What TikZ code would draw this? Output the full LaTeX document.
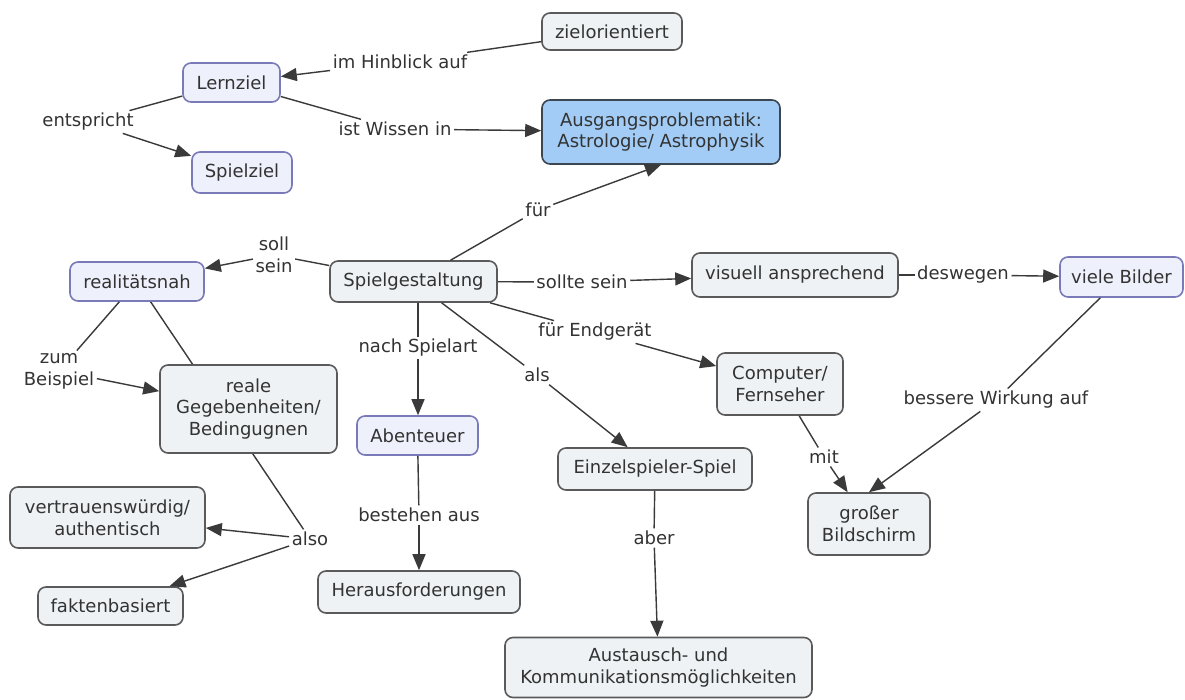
\documentclass[tikz,border=0pt]{standalone}
\usepackage{fontspec}
\setmainfont{DejaVu Sans}
\usetikzlibrary{arrows.meta,backgrounds}
\definecolor{txtc}{HTML}{333333}
\definecolor{linec}{HTML}{3A3A3A}
\definecolor{greyborder}{HTML}{5A5A5A}
\definecolor{greyfill}{HTML}{EEF2F5}
\definecolor{blueborder}{HTML}{7A7AB8}
\definecolor{lavfill}{HTML}{EEF0FB}
\definecolor{rootfill}{HTML}{A2CCF5}
\definecolor{rootborder}{HTML}{3C4650}
\newcommand\mapfont{\fontsize{18}{21.7}\selectfont}
\tikzset{
  concept/.style={draw=greyborder, fill=greyfill, line width=1.6pt, rounded corners=8pt,
    align=center, inner sep=2pt, text=txtc, font=\mapfont},
  conceptB/.style={concept, draw=blueborder, fill=lavfill},
  rootc/.style={concept, draw=rootborder, fill=rootfill},
  linklbl/.style={align=center, inner sep=2.5pt, text=txtc, font=\mapfont},
  conn/.style={draw=linec, line width=1.4pt},
  arr/.style={conn, -{Triangle[length=16pt,width=13pt]}},
}
\begin{document}
\begin{tikzpicture}[x=1pt,y=-1pt]
\useasboundingbox (0,0) rectangle (1185,699);

% concepts
\node[concept, minimum width=140pt, minimum height=37pt] (ziel) at (612,31.5) {zielorientiert};
\node[conceptB, minimum width=97pt, minimum height=39pt] (lern) at (231.5,82.5) {Lernziel};
\node[conceptB, minimum width=100pt, minimum height=41pt] (spielziel) at (242,172.5) {Spielziel};
\node[rootc, minimum width=238pt, minimum height=64pt] (ausg) at (661,132) {Ausgangsproblematik:\\Astrologie/ Astrophysik};
\node[conceptB, minimum width=134pt, minimum height=39pt] (realit) at (137,281.5) {realitätsnah};
\node[concept, minimum width=167pt, minimum height=41pt] (spielg) at (413.5,281.5) {Spielgestaltung};
\node[concept, minimum width=206pt, minimum height=44pt] (visuell) at (795,275) {visuell ansprechend};
\node[conceptB, minimum width=123pt, minimum height=40pt] (viele) at (1121.5,277) {viele Bilder};
\node[concept, minimum width=177pt, minimum height=88pt] (reale) at (248.5,409) {reale\\Gegebenheiten/\\Bedingugnen};
\node[conceptB, minimum width=121pt, minimum height=39pt] (abent) at (417.5,435.5) {Abenteuer};
\node[concept, minimum width=126pt, minimum height=62pt] (comp) at (780,384) {Computer/\\Fernseher};
\node[concept, minimum width=194pt, minimum height=42pt] (einzel) at (655,469) {Einzelspieler-Spiel};
\node[concept, minimum width=122pt, minimum height=62pt] (gross) at (869,524) {großer\\Bildschirm};
\node[concept, minimum width=195pt, minimum height=61pt] (vertr) at (107.5,517.5) {vertrauenswürdig/\\authentisch};
\node[concept, minimum width=145pt, minimum height=38pt] (fakten) at (110.5,606) {faktenbasiert};
\node[concept, minimum width=202pt, minimum height=42pt] (heraus) at (419,592) {Herausforderungen};
\node[concept, minimum width=307pt, minimum height=60pt] (austausch) at (658.5,667.5) {Austausch- und\\Kommunikationsmöglichkeiten};

% link labels
\node[linklbl] (hinblick) at (400,62) {im Hinblick auf};
\node[linklbl] (wissen) at (395,129) {ist Wissen in};
\node[linklbl] (entspricht) at (88,122) {entspricht};
\node[linklbl] (fuer) at (538,210) {für};
\node[linklbl] (sollsein) at (274,255) {soll\\sein};
\node[linklbl] (sollte) at (582,282) {sollte sein};
\node[linklbl] (deswegen) at (963,275) {deswegen};
\node[linklbl] (endgeraet) at (595,332) {für Endgerät};
\node[linklbl] (spielart) at (418,348) {nach Spielart};
\node[linklbl] (als) at (537,375) {als};
\node[linklbl] (zumbsp) at (59,371) {zum\\Beispiel};
\node[linklbl] (also) at (310,539) {also};
\node[linklbl] (bestehen) at (419,515) {bestehen aus};
\node[linklbl] (mit) at (824,457) {mit};
\node[linklbl] (bessere) at (996,400) {bessere Wirkung auf};
\node[linklbl] (aber) at (654,538) {aber};

% background and the link that runs behind "reale Gegebenheiten"
\begin{pgfonlayer}{background}
  \fill[white] (0,0) rectangle (1185,699);
  \draw[conn] (realit) -- (also);
\end{pgfonlayer}

% connectors
\draw[conn] (ziel) -- (hinblick);
\draw[arr] (hinblick) -- (lern);
\draw[conn] (lern) -- (wissen);
\draw[arr] (wissen) -- (ausg);
\draw[conn] (lern) -- (entspricht);
\draw[arr] (entspricht) -- (spielziel);
\draw[conn] (spielg) -- (fuer);
\draw[arr] (fuer) -- (ausg.south);
\draw[conn] (spielg) -- (sollsein);
\draw[arr] (sollsein) -- (realit);
\draw[conn] (spielg) -- (sollte);
\draw[arr] (sollte) -- (visuell);
\draw[conn] (visuell) -- (deswegen);
\draw[arr] (deswegen) -- (viele);
\draw[conn] (spielg) -- (endgeraet);
\draw[arr] (endgeraet) -- (comp);
\draw[conn] (spielart |- spielg.south) -- (spielart);
\draw[arr] (spielart) -- (spielart |- abent.north);
\draw[conn] (spielg) -- (als);
\draw[arr] (als) -- (einzel);
\draw[conn] (realit) -- (zumbsp);
\draw[arr] (zumbsp) -- (reale);
\draw[arr] (also) -- (vertr);
\draw[arr] (also) -- (fakten);
\draw[conn] (abent) -- (bestehen);
\draw[arr] (bestehen) -- (heraus);
\draw[conn] (comp) -- (mit);
\draw[arr] (mit) -- (gross);
\draw[conn] (viele) -- (bessere);
\draw[arr] (bessere) -- (gross.north);
\draw[conn] (einzel) -- (aber);
\draw[arr] (aber) -- (austausch);
\end{tikzpicture}
\end{document}
